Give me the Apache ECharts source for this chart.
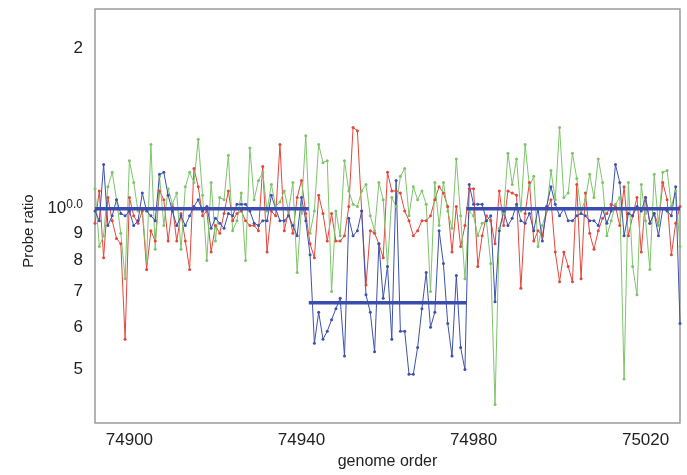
<!DOCTYPE html>
<html>
<head>
<meta charset="utf-8">
<script src="https://cdn.jsdelivr.net/npm/echarts@6/dist/echarts.min.js"></script>
<style>
  html, body { margin: 0; padding: 0; background: #fff; }
  #chart { width: 687px; height: 475px; }
</style>
</head>
<body>
<div id="chart"></div>
<script>
// probe ratio per genome position, one value per probe (74892 .. 75028)
const genomeStart = 74892

const redRatio = [
  0.94, 1.08, 0.81, 1.05, 0.95, 0.88, 0.86, 0.57, 1.05, 0.97,
  0.94, 0.99, 0.77, 0.91, 0.87, 1.08, 1.04, 0.87, 1.01, 0.87,
  0.98, 0.87, 0.77, 1.19, 1.10, 0.97, 0.99, 0.83, 0.93, 0.90,
  0.98, 1.08, 0.95, 0.98, 0.99, 0.95, 0.93, 0.93, 0.91, 1.20,
  0.83, 0.99, 0.97, 1.32, 0.91, 0.99, 0.90, 1.05, 1.13, 0.98,
  0.86, 0.81, 1.06, 0.98, 0.87, 0.98, 0.87, 0.87, 0.89, 1.01,
  1.42, 1.40, 0.99, 0.72, 0.91, 0.90, 0.86, 0.81, 1.17, 1.08,
  1.08, 1.07, 0.99, 0.95, 0.89, 0.91, 0.95, 0.95, 0.97, 1.04,
  1.10, 1.07, 1.01, 0.83, 1.01, 0.85, 0.93, 1.09, 1.09, 0.78,
  0.89, 0.97, 0.95, 0.86, 1.08, 0.93, 1.08, 1.07, 1.06, 0.71,
  0.98, 1.12, 0.87, 0.91, 0.89, 0.99, 1.04, 0.83, 0.73, 0.83,
  0.78, 0.73, 1.11, 0.74, 1.07, 0.90, 0.84, 0.91, 0.96, 0.98,
  1.02, 1.01, 0.93, 1.10, 0.89, 0.97, 1.05, 0.83, 1.05, 0.94,
  0.98, 0.93, 1.12, 1.04, 0.82, 0.94, 1.01
]

const greenRatio = [
  1.09, 0.85, 0.89, 1.10, 1.17, 1.04, 0.90, 0.74, 1.23, 1.12,
  0.99, 1.00, 0.80, 1.32, 0.84, 1.15, 0.93, 1.09, 1.02, 1.07,
  0.84, 1.10, 1.17, 1.12, 1.35, 1.06, 0.80, 1.12, 0.87, 1.05,
  1.04, 1.26, 0.91, 0.95, 1.07, 0.80, 1.30, 1.04, 1.13, 1.17,
  0.99, 1.11, 1.01, 1.03, 1.08, 0.99, 1.12, 0.76, 1.01, 1.37,
  0.90, 0.99, 1.32, 1.22, 1.23, 0.70, 0.99, 0.89, 1.23, 1.08,
  1.02, 1.01, 1.08, 1.11, 0.97, 0.91, 1.12, 1.04, 0.78, 1.05,
  1.01, 1.15, 1.19, 0.97, 1.10, 1.04, 1.08, 1.02, 0.70, 1.12,
  0.93, 1.12, 0.99, 0.92, 1.24, 0.97, 0.74, 0.99, 0.97, 0.89,
  0.94, 0.95, 0.79, 0.43, 0.92, 0.98, 1.27, 1.11, 1.24, 0.99,
  1.32, 1.10, 1.15, 0.85, 0.93, 0.99, 1.18, 1.04, 1.42, 1.05,
  1.07, 1.27, 1.14, 0.99, 1.04, 1.16, 1.05, 1.24, 1.12, 0.89,
  0.95, 1.02, 1.05, 0.48, 1.12, 0.78, 0.69, 1.11, 0.95, 0.77,
  1.16, 0.93, 1.17, 1.18, 1.01, 1.08, 0.85
]

const blueRatio = [
  0.99, 0.95, 1.21, 0.93, 0.97, 1.04, 0.98, 0.97, 0.99, 0.93,
  0.95, 1.07, 0.99, 0.97, 0.95, 1.16, 1.17, 1.06, 0.99, 0.93,
  0.97, 0.93, 0.97, 1.01, 1.04, 0.99, 1.01, 0.92, 0.96, 0.94,
  0.92, 0.98, 0.97, 1.02, 1.02, 1.02, 0.99, 0.94, 0.93, 0.95,
  0.95, 1.06, 1.00, 0.95, 0.95, 0.97, 0.93, 0.89, 1.05, 0.95,
  0.82, 0.56, 0.64, 0.57, 0.59, 0.62, 0.65, 0.68, 0.53, 0.96,
  0.89, 0.91, 0.99, 0.69, 0.64, 0.54, 0.86, 0.68, 0.78, 0.57,
  1.13, 0.59, 0.59, 0.49, 0.49, 0.55, 0.65, 0.76, 0.60, 0.64,
  0.91, 0.79, 0.61, 0.53, 0.75, 0.55, 0.50, 1.11, 1.02, 1.02,
  1.02, 0.95, 0.97, 0.67, 0.91, 0.99, 0.93, 0.96, 1.02, 0.95,
  0.94, 0.98, 0.91, 1.00, 0.87, 1.01, 1.10, 1.02, 0.97, 1.00,
  0.95, 0.95, 0.97, 0.98, 0.97, 0.95, 0.95, 0.93, 1.00, 0.94,
  0.99, 1.21, 1.12, 0.89, 0.98, 0.97, 1.01, 0.99, 1.05, 0.94,
  0.98, 0.89, 1.00, 0.99, 0.97, 1.10, 0.61
]

// segmentation of the blue probe (start, end, mean ratio)
const segStart = [74892, 74941.7, 74978.3]
const segEnd = [74941.7, 74978.3, 75028]
const segMean = [1.0, 0.667, 1.0]

// y ticks (ratio) and the text printed next to them
const yTickRatio = [0.5, 0.6, 0.7, 0.8, 0.9, 1.0, 2.0]
const yTickText = ['5', '6', '7', '8', '9', '{a|10}{b|0.0}', '2']
const xTicks = [74900, 74940, 74980, 75020]

const chart = echarts.init(document.getElementById('chart'))

// ratio -> log10 so the y axis is logarithmic
const toPoints = arr => arr.map((v, i) => [genomeStart + i, Math.log10(v)])
const yTickPos = yTickRatio.map(v => Math.log10(v))

const probeSeries = (name, arr, color) => ({
  name: name,
  type: 'line',
  data: toPoints(arr),
  symbol: 'circle',
  symbolSize: 3,
  showSymbol: true,
  itemStyle: { color: color },
  lineStyle: { color: color, width: 1 },
  silent: true
})

const segSeries = segStart.map((s, i) => ({
  type: 'line',
  data: [[s, Math.log10(segMean[i])], [segEnd[i], Math.log10(segMean[i])]],
  symbol: 'none',
  lineStyle: { color: '#3a4cae', width: 3.5 },
  z: 5,
  silent: true
}))

const option = {
  animation: false,
  backgroundColor: '#fff',
  textStyle: { fontFamily: 'Liberation Sans' },
  grid: {
    left: 95,
    right: 7,
    top: 9,
    bottom: 52,
    show: true,
    borderColor: '#9a9a9a',
    borderWidth: 1.5
  },
  xAxis: {
    type: 'value',
    min: genomeStart,
    max: 75028,
    name: 'genome order',
    nameLocation: 'middle',
    nameGap: 31,
    nameTextStyle: { fontSize: 16, color: '#222' },
    axisLine: { show: false },
    splitLine: { show: false },
    axisTick: {
      show: true,
      customValues: xTicks,
      length: 6,
      lineStyle: { color: '#9a9a9a', width: 1.5 }
    },
    axisLabel: {
      customValues: xTicks,
      fontSize: 17,
      color: '#222',
      margin: 9,
      formatter: val => String(Math.round(val))
    }
  },
  yAxis: {
    type: 'value',
    min: -0.401,
    max: 0.374,
    name: 'Probe ratio',
    nameLocation: 'middle',
    nameGap: 58,
    nameRotate: 90,
    nameTextStyle: { fontSize: 15, color: '#222', padding: [0, 30, 0, 0] },
    axisLine: { show: false },
    axisTick: { show: false },
    splitLine: { show: false },
    axisLabel: {
      customValues: yTickPos,
      fontSize: 17,
      color: '#222',
      margin: 12,
      formatter: function (val) {
        let best = 0
        yTickPos.forEach((p, i) => {
          if (Math.abs(p - val) < Math.abs(yTickPos[best] - val)) best = i
        })
        return yTickText[best]
      },
      rich: {
        a: { fontSize: 17, color: '#222' },
        b: { fontSize: 12, color: '#222', padding: [0, 0, 9, 0] }
      }
    }
  },
  series: [
    probeSeries('red', redRatio, '#e3473d'),
    probeSeries('green', greenRatio, '#7fc46c'),
    probeSeries('blue', blueRatio, '#3f52aa')
  ].concat(segSeries)
}

chart.setOption(option)
</script>
</body>
</html>
